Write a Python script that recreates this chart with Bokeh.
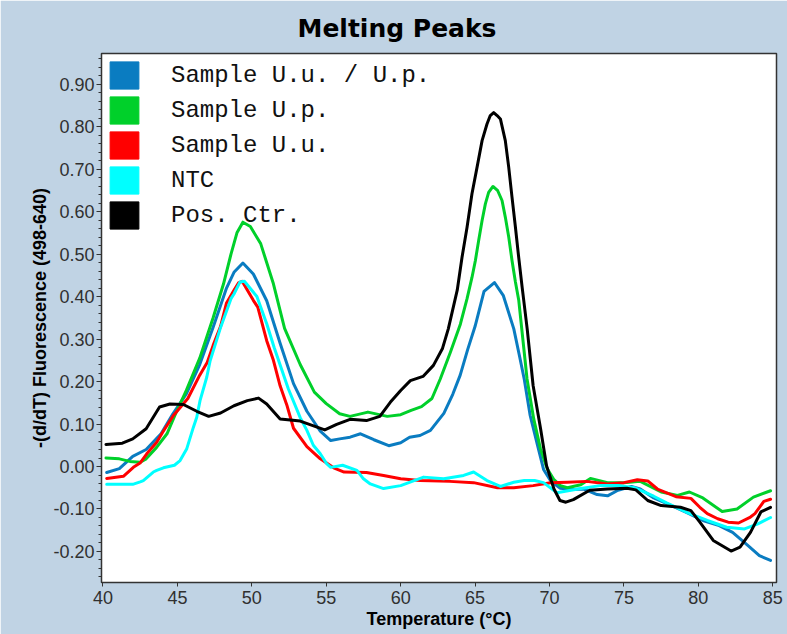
from bokeh.plotting import figure
from bokeh.models import Range1d, Legend, LegendItem, FixedTicker, NumeralTickFormatter
from bokeh.embed import file_html
from bokeh.resources import INLINE

series_names = ["Sample U.u. / U.p.", "Sample U.p.", "Sample U.u.", "NTC", "Pos. Ctr."]
colors = ["#0A7CC1", "#00D02A", "#FF0000", "#00FFFF", "#000000"]

blue_t = [40.25, 41.1, 42.0, 42.9, 43.9, 44.7, 45.6, 46.5, 47.4, 48.3, 48.8, 49.4, 50.1, 51.0, 51.9, 52.8, 53.7, 54.6, 55.3, 55.9,
          56.6, 57.3, 58.2, 59.2, 60.0, 60.6, 61.3, 62.0, 62.9, 63.5, 64.0, 64.5, 65.0, 65.6, 66.3, 66.9, 67.6, 68.0, 68.3, 68.7,
          69.2, 69.6, 70.1, 70.7, 71.6, 72.3, 73.2, 73.9, 74.6, 75.5, 76.1, 77.0, 78.2, 79.3, 80.3, 81.4, 82.3, 83.3, 84.1, 84.85]
blue_v = [-0.014, -0.005, 0.024, 0.040, 0.077, 0.124, 0.171, 0.24, 0.328, 0.42, 0.457, 0.479, 0.453, 0.39, 0.29, 0.195, 0.13, 0.083, 0.061, 0.065,
          0.069, 0.077, 0.063, 0.049, 0.056, 0.069, 0.073, 0.085, 0.125, 0.17, 0.215, 0.275, 0.33, 0.412, 0.433, 0.402, 0.324, 0.257, 0.206, 0.12,
          0.049, -0.007, -0.035, -0.051, -0.054, -0.053, -0.066, -0.069, -0.056, -0.047, -0.053, -0.074, -0.092, -0.11, -0.127, -0.139, -0.155, -0.185, -0.21, -0.221]

green_t = [40.2, 41.1, 41.8, 42.5, 42.9, 43.6, 44.3, 44.95, 45.6, 46.5, 47.4, 48.1, 48.6, 49.0, 49.4, 49.9, 50.6, 51.45, 52.2, 53.25,
           54.2, 55.0, 55.9, 56.6, 57.8, 59.1, 60.0, 60.7, 61.4, 62.1, 62.66, 63.34, 64.01, 64.46, 64.79, 65.02, 65.24, 65.47, 65.69, 65.91,
           66.2, 66.52, 66.81, 67.03, 67.26, 67.48, 67.71, 67.93, 68.49, 68.94, 69.39, 69.84, 70.28, 70.73, 71.2, 72.1, 72.75, 73.9, 75.0, 76.1,
           77.5, 78.6, 79.4, 80.3, 81.6, 82.6, 83.7, 84.85]
green_v = [0.02, 0.018, 0.012, 0.01, 0.018, 0.045, 0.077, 0.13, 0.179, 0.255, 0.35, 0.43, 0.50, 0.55, 0.575, 0.565, 0.524, 0.43, 0.325, 0.24,
           0.175, 0.148, 0.124, 0.118, 0.128, 0.118, 0.122, 0.132, 0.141, 0.16, 0.206, 0.269, 0.335, 0.395, 0.445, 0.485, 0.532, 0.579, 0.618, 0.645,
           0.659, 0.649, 0.626, 0.587, 0.54, 0.485, 0.434, 0.392, 0.206, 0.112, 0.042, -0.005, -0.03, -0.045, -0.05, -0.043, -0.028, -0.038, -0.038, -0.035,
           -0.06, -0.068, -0.06, -0.074, -0.106, -0.1, -0.072, -0.057]

red_t = [40.25, 41.37, 42.04, 42.49, 42.94, 43.61, 44.0, 44.73, 45.7, 46.5, 47.0, 47.4, 47.9, 48.3, 48.8, 49.1, 49.35, 50.1, 50.4, 51.0,
         51.45, 51.9, 52.35, 52.8, 53.7, 54.6, 55.5, 56.2, 57.7, 58.85, 60.0, 61.3, 63.3, 64.9, 66.5, 67.6, 68.9, 70.06, 71.2, 72.5,
         73.9, 75.0, 75.9, 76.6, 77.25, 78.5, 79.5, 80.1, 80.6, 81.3, 82.0, 82.7, 83.5, 83.8, 84.4, 84.85]
red_v = [-0.028, -0.023, -0.002, 0.008, 0.03, 0.057, 0.08, 0.12, 0.16, 0.215, 0.245, 0.285, 0.33, 0.385, 0.415, 0.432, 0.436, 0.391, 0.375, 0.296,
         0.25, 0.19, 0.145, 0.09, 0.047, 0.018, -0.003, -0.013, -0.014, -0.021, -0.029, -0.033, -0.035, -0.038, -0.05, -0.05, -0.045, -0.038, -0.037, -0.035,
         -0.041, -0.038, -0.031, -0.034, -0.053, -0.071, -0.075, -0.096, -0.111, -0.123, -0.131, -0.133, -0.119, -0.111, -0.082, -0.077]

cyan_t = [40.25, 41.6, 42.0, 42.5, 42.71, 43.38, 43.61, 44.06, 44.8, 45.18, 45.63, 46.07, 46.3, 46.52, 46.97, 47.2, 47.87, 48.6, 48.8, 49.2,
          49.5, 50.34, 51.0, 51.5, 52.45, 53.25, 53.7, 54.13, 54.6, 55.04, 55.3, 56.1, 57.06, 57.5, 57.96, 58.85, 60.0, 61.54, 62.89, 64.23,
          64.9, 65.8, 66.7, 67.6, 68.3, 69.0, 69.6, 70.5, 72.1, 73.4, 74.7, 75.7, 77.0, 77.9, 79.3, 80.6, 81.9, 83.1, 84.0, 84.85]
cyan_v = [-0.042, -0.042, -0.042, -0.036, -0.033, -0.013, -0.009, -0.003, 0.003, 0.014, 0.042, 0.092, 0.116, 0.155, 0.21, 0.249, 0.324, 0.395, 0.406, 0.434,
          0.436, 0.40, 0.336, 0.28, 0.183, 0.115, 0.085, 0.05, 0.03, 0.006, -0.002, 0.003, -0.009, -0.029, -0.041, -0.052, -0.045, -0.025, -0.029, -0.021,
          -0.013, -0.033, -0.047, -0.037, -0.033, -0.033, -0.038, -0.062, -0.052, -0.045, -0.045, -0.05, -0.07, -0.086, -0.109, -0.127, -0.143, -0.147, -0.135, -0.12]

black_t = [40.2, 41.3, 42.0, 42.9, 43.8, 44.5, 45.4, 46.3, 47.1, 47.9, 48.8, 49.7, 50.45, 51.0, 51.9, 53.25, 54.1, 54.9, 55.7, 56.6,
           57.7, 58.6, 59.3, 60.0, 60.65, 61.5, 62.2, 62.8, 63.2, 63.8, 64.12, 64.46, 64.79, 65.13, 65.47, 65.8, 66.02, 66.25, 66.48, 66.7,
           67.03, 67.26, 67.48, 67.71, 67.93, 68.16, 68.5, 68.9, 69.4, 69.8, 70.3, 70.7, 71.1, 71.6, 72.7, 73.9, 75.2, 75.8, 76.6, 77.5,
           78.8, 79.5, 80.1, 81.0, 82.2, 82.8, 83.5, 84.2, 84.85]
black_v = [0.052, 0.055, 0.065, 0.089, 0.14, 0.147, 0.146, 0.13, 0.118, 0.126, 0.143, 0.155, 0.161, 0.147, 0.112, 0.107, 0.096, 0.086, 0.099, 0.111,
           0.108, 0.118, 0.151, 0.179, 0.202, 0.212, 0.238, 0.277, 0.324, 0.415, 0.492, 0.563, 0.642, 0.704, 0.767, 0.806, 0.826, 0.833, 0.826, 0.818,
           0.767, 0.704, 0.634, 0.563, 0.492, 0.422, 0.324, 0.19, 0.089, 0.002, -0.053, -0.08, -0.084, -0.078, -0.056, -0.053, -0.051, -0.055, -0.08, -0.092,
           -0.096, -0.104, -0.131, -0.174, -0.199, -0.19, -0.155, -0.107, -0.096]

x_ticks = [40, 45, 50, 55, 60, 65, 70, 75, 80, 85]
y_ticks = [-0.2, -0.1, 0.0, 0.1, 0.2, 0.3, 0.4, 0.5, 0.6, 0.7, 0.8, 0.9]

BG = "#C0D3E4"

p = figure(width=787, height=634, output_backend="svg", toolbar_location=None,
           x_range=Range1d(39.9, 85.25), y_range=Range1d(-0.273, 0.972),
           min_border_left=101, min_border_right=11, min_border_top=53, min_border_bottom=52,
           title="Melting Peaks")
p.border_fill_color = BG
p.background_fill_color = "white"
p.outline_line_color = "#333333"
p.outline_line_width = 1.5
p.xgrid.visible = False
p.ygrid.visible = False

p.title.align = "left"
p.title.offset = 196
p.title.standoff = 22
p.title.text_font = "DejaVu Sans"
p.title.text_font_style = "bold"
p.title.text_font_size = "25px"
p.title.text_color = "black"

for ax in (p.xaxis[0], p.yaxis[0]):
    ax.axis_line_color = "#333333"
    ax.major_tick_line_color = "#333333"
    ax.minor_tick_line_color = "#333333"
    ax.major_tick_in = 0
    ax.minor_tick_in = 0
    ax.major_label_text_font = "Liberation Sans"
    ax.major_label_text_font_size = "18px"
    ax.major_label_text_color = "#303030"
    ax.axis_label_text_font = "Liberation Sans"
    ax.axis_label_text_font_style = "bold"
    ax.axis_label_text_font_size = "18px"
    ax.axis_label_text_color = "black"

p.xaxis.ticker = FixedTicker(ticks=x_ticks)
p.xaxis.major_tick_out = 4
p.xaxis.minor_tick_line_color = None
p.xaxis.major_label_standoff = 4
p.xaxis.axis_label = "Temperature (°C)"
p.xaxis.axis_label_standoff = 2

minor = [round(-0.26 + 0.02 * i, 2) for i in range(62)]
p.yaxis.ticker = FixedTicker(ticks=y_ticks, minor_ticks=minor)
p.yaxis.formatter = NumeralTickFormatter(format="0.00")
p.yaxis.major_tick_out = 5
p.yaxis.minor_tick_out = 3
p.yaxis.major_label_standoff = 2
p.yaxis.axis_label = "-(d/dT) Fluorescence (498-640)"
p.yaxis.axis_label_standoff = 0

series = [(blue_t, blue_v), (green_t, green_v), (red_t, red_v), (cyan_t, cyan_v), (black_t, black_v)]
for (t, v), c in zip(series, colors):
    p.line(t, v, line_color=c, line_width=3, line_join="round", line_cap="round")

# legend swatches: zero-size quads anchored on each series' first point
items = []
for name, (t, v), c in zip(series_names, series, colors):
    r = p.quad(left=t[:1], right=t[:1], top=v[:1], bottom=v[:1], fill_color=c, line_color=c, line_width=1)
    items.append(LegendItem(label=name, renderers=[r]))

legend = Legend(items=items, location="top_left", margin=0, padding=5, spacing=1,
                glyph_width=36, glyph_height=34, label_standoff=29,
                label_text_font="Liberation Mono", label_text_font_size="24px",
                label_text_color="#111111", background_fill_alpha=0, border_line_alpha=0)
p.add_layout(legend)

open("out.html", "w").write(file_html(p, INLINE))
